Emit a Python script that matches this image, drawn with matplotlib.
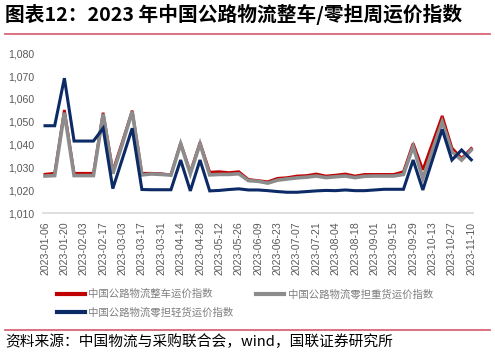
import numpy as np
import pandas as pd
import matplotlib
matplotlib.use("Agg")
import matplotlib.pyplot as plt
from matplotlib.lines import Line2D

plt.rcParams['font.family'] = ['Liberation Sans', 'Noto Sans CJK SC', 'DejaVu Sans']

# weekly index values, 2023-01-06 .. 2023-11-10
dates = pd.date_range("2023-01-06", "2023-11-10", freq="7D")

ftl = [1027.1, 1027.5, 1055.2, 1027.5, 1027.5, 1027.5, 1054.0, 1028.5, 1041.5, 1054.9,
       1027.5, 1027.5, 1027.3, 1026.8, 1040.8, 1028.0, 1041.0, 1028.0, 1028.2, 1027.8,
       1028.2, 1024.8, 1024.3, 1023.8, 1025.3, 1025.6, 1026.3, 1026.5, 1027.2, 1026.3,
       1026.7, 1027.2, 1026.3, 1027.0, 1027.0, 1027.0, 1027.0, 1028.2, 1040.6, 1029.0,
       1040.8, 1052.6, 1038.6, 1034.0, 1038.4]
ltl_heavy = [1026.3, 1026.5, 1054.0, 1026.5, 1026.5, 1026.5, 1053.5, 1027.3, 1040.5, 1054.5,
             1026.8, 1027.2, 1027.0, 1026.7, 1040.4, 1027.3, 1040.4, 1026.8, 1027.0, 1027.0,
             1027.3, 1024.3, 1024.0, 1023.2, 1024.5, 1025.0, 1025.5, 1025.8, 1026.3, 1025.6,
             1026.0, 1026.3, 1025.6, 1026.2, 1026.3, 1026.3, 1026.3, 1027.0, 1039.2, 1025.3,
             1037.7, 1050.0, 1037.0, 1033.3, 1037.7]
ltl_light = [1048.3, 1048.3, 1069.1, 1041.6, 1041.6, 1041.6, 1047.2, 1020.8, 1034.0, 1047.2,
             1020.4, 1020.3, 1020.3, 1020.3, 1033.3, 1019.8, 1033.3, 1019.8, 1020.0, 1020.4,
             1020.7, 1020.2, 1020.2, 1019.9, 1019.5, 1019.2, 1019.2, 1019.5, 1019.8, 1020.0,
             1019.9, 1020.2, 1019.9, 1019.9, 1020.2, 1020.5, 1020.5, 1020.5, 1033.3, 1020.2,
             1033.5, 1046.7, 1033.3, 1037.7, 1033.4]

names = ["中国公路物流整车运价指数", "中国公路物流零担重货运价指数", "中国公路物流零担轻货运价指数"]
colors = ["#C00000", "#8C8C8C", "#0B2A66"]
widths = [2.0, 2.6, 2.2]

fig = plt.figure(figsize=(4.95, 3.54), dpi=100)
ax = fig.add_axes([0.087, 0.3975, 0.869, 0.452])

x = np.arange(len(dates))
for vals, c, lw in zip([ftl, ltl_heavy, ltl_light], colors, widths):
    ax.plot(x, vals, color=c, lw=lw, solid_joinstyle='miter', clip_on=False)

ax.set_xlim(-0.2, len(dates) - 1 + 0.2)
ax.set_ylim(1010, 1080)
ax.set_yticks(np.arange(1010, 1081, 10))
ax.set_yticklabels([f"{v:,}" for v in range(1010, 1081, 10)])
ax.set_xticks(x[::2])
ax.set_xticklabels([d.strftime("%Y-%m-%d") for d in dates[::2]], rotation=90)
ax.tick_params(axis='both', length=0, labelsize=7.6, labelcolor="#595959")
ax.tick_params(axis='y', pad=6)
ax.tick_params(axis='x', pad=6)
for s in ['top', 'right', 'left']:
    ax.spines[s].set_visible(False)
ax.spines['bottom'].set_color("#D9D9D9")
ax.spines['bottom'].set_linewidth(1.2)

handles = [Line2D([], [], color=c, lw=3) for c in colors]
order = [0, 2, 1]
fig.legend([handles[i] for i in order], [names[i] for i in order],
           loc='upper left', bbox_to_anchor=(0.115, 0.184), ncol=2, frameon=False,
           handlelength=2.7, handletextpad=0.3, columnspacing=2.2, labelspacing=0.75,
           prop={'family': ['Noto Sans CJK SC'], 'size': 7.5}, labelcolor="#7F7F7F",
           borderaxespad=0, borderpad=0)

fig.text(0.01, 0.958, "图表12：2023 年中国公路物流整车/零担周运价指数", fontsize=14.2,
         fontweight='bold', va='center', ha='left', family=['Noto Sans CJK SC', 'DejaVu Sans'])
fig.add_artist(Line2D([0.01, 0.99], [0.905, 0.905], color="#D9667A", lw=1.3))
fig.add_artist(Line2D([0.01, 0.99], [0.068, 0.068], color="#D9667A", lw=1.3))
fig.text(0.01, 0.035, "资料来源：中国物流与采购联合会，wind，国联证券研究所", fontsize=10.6,
         va='center', ha='left', family=['Noto Sans CJK SC', 'DejaVu Sans'])

fig.savefig("out.png", dpi=100)
